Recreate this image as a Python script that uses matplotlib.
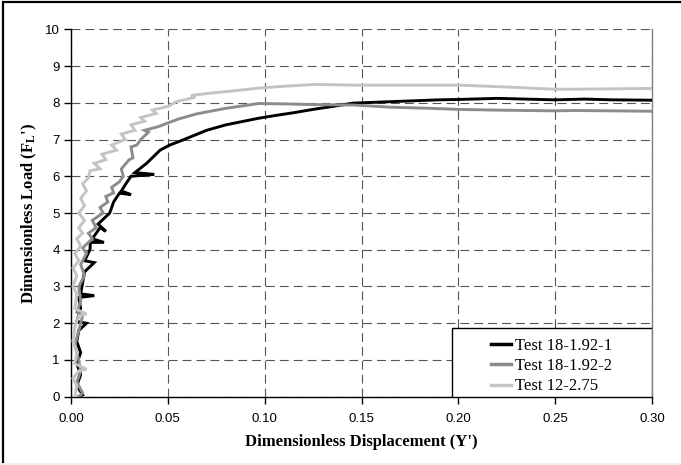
import numpy as np
import matplotlib
matplotlib.use("Agg")
import matplotlib.pyplot as plt
from matplotlib.patches import Rectangle
from matplotlib.lines import Line2D

# Test 18-1.92-1 (black)
x_t1 = [0.004, 0.006, 0.003, 0.005, 0.003, 0.005, 0.003, 0.004, 0.008, 0.003, 0.005, 0.004,
        0.012, 0.005, 0.006, 0.007, 0.012, 0.007, 0.0098, 0.010, 0.017, 0.011, 0.015, 0.018,
        0.014, 0.020, 0.022, 0.025, 0.031, 0.026, 0.029, 0.031, 0.043, 0.033, 0.039, 0.046,
        0.051, 0.056, 0.063, 0.070, 0.080, 0.097, 0.105, 0.115, 0.125, 0.135, 0.1455, 0.160,
        0.175, 0.190, 0.200, 0.220, 0.235, 0.250, 0.265, 0.280, 0.300]
y_t1 = [0.0, 0.05, 0.3, 0.6, 0.9, 1.2, 1.5, 1.8, 2.0, 2.05, 2.4, 2.7,
        2.75, 2.8, 3.1, 3.4, 3.65, 3.7, 4.0, 4.2, 4.2, 4.3, 4.6, 4.5,
        4.7, 5.0, 5.3, 5.54, 5.5, 5.6, 5.85, 6.0, 6.05, 6.1, 6.35, 6.71,
        6.85, 6.95, 7.1, 7.25, 7.4, 7.58, 7.65, 7.73, 7.82, 7.9, 7.99, 8.02,
        8.05, 8.08, 8.09, 8.12, 8.1, 8.08, 8.1, 8.08, 8.07]

# Test 18-1.92-2 (dark grey)
x_t2 = [0.004, 0.006, 0.003, 0.005, 0.004, 0.002, 0.004, 0.006, 0.003, 0.005, 0.004, 0.007,
        0.005, 0.008, 0.006, 0.011, 0.009, 0.013, 0.011, 0.0166, 0.015, 0.019, 0.018, 0.022,
        0.021, 0.025, 0.027, 0.026, 0.030, 0.032, 0.031, 0.034, 0.036, 0.040, 0.038, 0.045,
        0.055, 0.065, 0.080, 0.097, 0.110, 0.125, 0.1455, 0.165, 0.185, 0.200, 0.220, 0.250,
        0.260, 0.280, 0.300]
y_t2 = [0.0, 0.1, 0.4, 0.7, 1.0, 1.4, 1.8, 2.2, 2.3, 2.6, 3.0, 3.3,
        3.6, 3.9, 4.05, 4.3, 4.45, 4.6, 4.8, 5.0, 5.15, 5.3, 5.45, 5.55,
        5.7, 5.85, 6.0, 6.2, 6.45, 6.5, 6.8, 6.85, 7.0, 7.2, 7.25, 7.35,
        7.55, 7.7, 7.85, 7.98, 7.97, 7.95, 7.94, 7.88, 7.85, 7.82, 7.8, 7.78,
        7.79, 7.78, 7.77]

# Test 12-2.75 (light grey)
x_t3 = [0.002, 0.003, 0.001, 0.004, 0.008, 0.002, 0.003, 0.001, 0.002, 0.004, 0.008, 0.002,
        0.003, 0.001, 0.003, 0.001, 0.004, 0.002, 0.005, 0.003, 0.006, 0.004, 0.007, 0.004,
        0.007, 0.005, 0.008, 0.006, 0.009, 0.0098, 0.015, 0.012, 0.018, 0.016, 0.0235, 0.021,
        0.028, 0.026, 0.033, 0.031, 0.038, 0.036, 0.044, 0.042, 0.050, 0.0545, 0.064, 0.062,
        0.0716, 0.085, 0.097, 0.110, 0.1265, 0.1455, 0.170, 0.200, 0.220, 0.2495, 0.260, 0.280,
        0.300]
y_t3 = [0.0, 0.3, 0.5, 0.7, 0.75, 0.9, 1.2, 1.5, 1.9, 2.2, 2.25, 2.4,
        2.8, 3.0, 3.3, 3.5, 3.7, 3.9, 4.1, 4.3, 4.45, 4.6, 4.8, 5.0,
        5.2, 5.4, 5.6, 5.8, 5.95, 6.15, 6.2, 6.35, 6.45, 6.6, 6.71, 6.85,
        7.0, 7.15, 7.25, 7.4, 7.5, 7.6, 7.71, 7.8, 7.9, 8.03, 8.15, 8.2,
        8.26, 8.33, 8.4, 8.45, 8.5, 8.48, 8.48, 8.48, 8.44, 8.37, 8.37, 8.38,
        8.39]

labels = ["Test 18-1.92-1", "Test 18-1.92-2", "Test 12-2.75"]
colors = ["#000000", "#8c8c8c", "#c4c4c4"]

serif = "Liberation Serif"
sans = "Liberation Sans"
plt.rcParams["mathtext.fontset"] = "custom"
plt.rcParams["mathtext.rm"] = "Liberation Serif:bold"
plt.rcParams["mathtext.it"] = "Liberation Serif:bold"
plt.rcParams["mathtext.bf"] = "Liberation Serif:bold"

fig = plt.figure(figsize=(6.81, 4.65), dpi=100)
ax = fig.add_axes([71 / 681, 1 - 396.7 / 465, 581 / 681, 367.4 / 465])

series = [(x_t1, y_t1), (x_t2, y_t2), (x_t3, y_t3)]
for (xs, ys), c in zip(series, colors):
    ax.plot(xs, ys, color=c, lw=2.1, solid_joinstyle="miter", zorder=3)

ax.set_xlim(0, 0.30)
ax.set_ylim(0, 10)
ax.set_xticks(np.arange(0, 0.301, 0.05))
ax.set_yticks(np.arange(0, 11, 1))
ax.set_xticklabels(["%.2f" % v for v in np.arange(0, 0.301, 0.05)])
ax.grid(True, color="#555555", lw=0.8, linestyle=(0, (8, 4.5)))
ax.tick_params(direction="out", length=5, width=1, color="black",
               labelsize=9.5, pad=3)
ax.tick_params(axis="x", pad=7)
for lab in ax.get_xticklabels() + ax.get_yticklabels():
    lab.set_fontfamily(sans)

ax.spines["top"].set_visible(False)
ax.spines["right"].set_color("#808080")
ax.spines["right"].set_linewidth(1)
ax.spines["left"].set_linewidth(1)
ax.spines["bottom"].set_linewidth(1)

ax.set_xlabel("Dimensionless Displacement (Y')", fontfamily=serif,
              fontweight="bold", fontsize=12, labelpad=6)
ax.set_ylabel("Dimensionless Load (F$_\\mathregular{L}$')", fontfamily=serif,
              fontweight="bold", fontsize=12, labelpad=4)

# legend box in the lower-right corner (Excel style, wide left padding)
ax.add_patch(Rectangle((0.656, 0.0), 0.344, 0.187, transform=ax.transAxes,
                       facecolor="white", edgecolor="black", lw=1, zorder=5))
handles = [Line2D([], [], color=c, lw=2.5) for c in colors]
leg = ax.legend(handles, labels, loc="lower left", bbox_to_anchor=(0.712, -0.012),
                frameon=False, prop={"family": serif, "size": 12},
                handlelength=1.2, handletextpad=0.2, labelspacing=0.25,
                borderaxespad=0)
leg.set_zorder(6)

# outer frame of the picture
fig.patches.append(Rectangle((2.5 / 681, -0.1), 1.2, 1.1 - 2.5 / 465,
                             transform=fig.transFigure, fill=False,
                             edgecolor="black", lw=1.6))
fig.patches.append(Rectangle((0, 0), 1, 2.5 / 465, transform=fig.transFigure,
                             facecolor="#eeeeee", edgecolor="none"))

fig.savefig("out.png", dpi=100)
